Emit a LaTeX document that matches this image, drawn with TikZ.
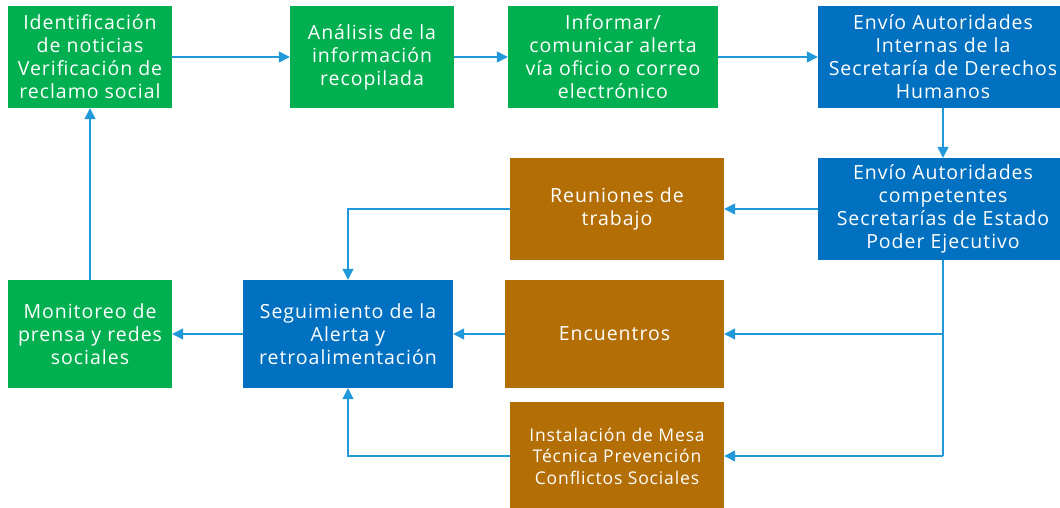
\documentclass[tikz,border=0pt]{standalone}
\usepackage{fontspec}
\setmainfont{Open Sans}[LetterSpace=5]
\usetikzlibrary{positioning,arrows.meta}
\definecolor{verde}{HTML}{00B050}
\definecolor{azul}{HTML}{0070C0}
\definecolor{cafe}{HTML}{B36F06}
\definecolor{linea}{HTML}{2198DA}
\tikzset{
    caja/.style={text=white, align=center, inner sep=0pt, minimum height=102pt,
        font=\fontsize{19.5}{23}\selectfont},
    verdecaja/.style={caja, fill=verde},
    azulcaja/.style={caja, fill=azul},
    cafecaja/.style={caja, fill=cafe},
    flecha/.style={draw=linea, line width=1.3pt, -{Triangle[length=11pt,width=11pt]}},
    linea/.style={draw=linea, line width=1.3pt}
}
\begin{document}
\begin{tikzpicture}[x=1pt,y=-1pt]
        \clip (0,0) rectangle (1060,508);
        \fill[white] (0,0) rectangle (1060,508);

        % cajas de la fila de arriba
        \draw (90,57) node[verdecaja, minimum width=164pt] (ident) {Identificación\\de noticias\\Verificación de\\reclamo social};
        \draw (372,57) node[verdecaja, minimum width=164pt] (analisis) {Análisis de la\\información\\recopilada};
        \draw (613,57) node[verdecaja, minimum width=210pt] (informar) {Informar/\\comunicar alerta\\vía oficio o correo\\electrónico};
        \draw (943,57) node[azulcaja, minimum width=250pt] (internas) {Envío Autoridades\\Internas de la\\Secretaría de Derechos\\Humanos};

        % cajas de la derecha y del medio
        \draw (943,209) node[azulcaja, minimum width=250pt] (competentes) {Envío Autoridades\\competentes\\Secretarías de Estado\\Poder Ejecutivo};
        \draw (617,209) node[cafecaja, minimum width=214pt] (reuniones) {Reuniones de\\trabajo};
        \draw (614.5,334) node[cafecaja, minimum width=219pt, minimum height=108pt] (encuentros) {Encuentros};
        \draw (617,456) node[cafecaja, minimum width=214pt, minimum height=108pt,
            font=\fontsize{17.5}{21.5}\selectfont] (mesa) {Instalación de Mesa\\Técnica Prevención\\Conflictos Sociales};

        % cajas de la fila de abajo
        \draw (348,334) node[azulcaja, minimum width=210pt, minimum height=108pt] (seguimiento) {Seguimiento de la\\Alerta y\\retroalimentación};
        \draw (90,334) node[verdecaja, minimum width=164pt, minimum height=108pt] (monitoreo) {Monitoreo de\\prensa y redes\\sociales};

        \coordinate (bajada) at (competentes.south |- mesa.east);
        \coordinate (cruce) at (competentes.south |- encuentros.east);

        % flechas de la fila de arriba
        \draw[flecha] (ident) -- (analisis);
        \draw[flecha] (analisis) -- (informar);
        \draw[flecha] (informar) -- (internas);
        \draw[flecha] (internas) -- (competentes);

        % flechas hacia las acciones
        \draw[flecha] (competentes) -- (reuniones);
        \draw[linea] (competentes.south) -- (bajada);
        \draw[flecha] (cruce) -- (encuentros);
        \draw[flecha] (bajada) -- (mesa);

        % flechas de regreso
        \draw[flecha] (reuniones.west) -| (seguimiento.north);
        \draw[flecha] (encuentros) -- (seguimiento);
        \draw[flecha] (mesa.west) -| (seguimiento.south);
        \draw[flecha] (seguimiento) -- (monitoreo);
        \draw[flecha] (monitoreo) -- (ident);
    \end{tikzpicture}
\end{document}
